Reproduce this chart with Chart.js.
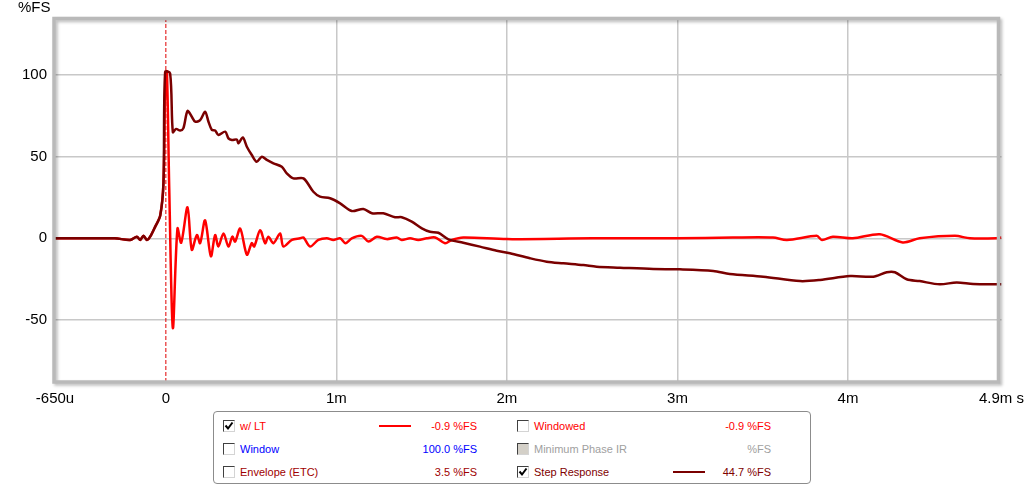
<!DOCTYPE html>
<html>
<head>
<meta charset="utf-8">
<script src="https://cdn.jsdelivr.net/npm/chart.js@4.4.1/dist/chart.umd.min.js"></script>
<style>
  body { margin: 0; background: #fff; font-family: "Liberation Sans", Arial, sans-serif; }
  #wrap { position: relative; width: 1024px; height: 485px; }
  #legend {
    position: absolute; left: 213px; top: 411px; width: 596px; height: 71px;
    border: 1px solid #8c8c8c; border-radius: 4px; font-size: 11px; background: #fff;
  }
  .row { position: absolute; height: 14px; line-height: 14px; white-space: nowrap; }
  .cb {
    position: absolute; top: 1px; width: 10px; height: 10px;
    border: 1px solid; border-color: #404040 #d4d4d4 #d4d4d4 #404040; background: #fff;
  }
  .cb.dis { background: #d4d0c8; }
  .cb svg { position: absolute; left: 0; top: 0; }
  .lbl { position: absolute; }
  .swatch { position: absolute; top: 6px; height: 2px; }
  .val { position: absolute; text-align: right; width: 90px; }
</style>
</head>
<body>
<div id="wrap">
  <canvas id="ir" width="1024" height="485"></canvas>
  <div id="legend"></div>
</div>
<script>
// x in ms, y in %FS
const ltTime = [-0.65, -0.3, -0.209, -0.17, -0.151, -0.131, -0.111, -0.092, -0.063, -0.033, -0.014, -0.004, 0.006, 0.02, 0.041, 0.068, 0.09, 0.127, 0.152, 0.182, 0.201, 0.23, 0.264, 0.289, 0.308, 0.338, 0.367, 0.39, 0.406, 0.436, 0.475, 0.504, 0.518, 0.553, 0.582, 0.601, 0.631, 0.67, 0.689, 0.739, 0.787, 0.807, 0.846, 0.894, 0.944, 0.982, 1.022, 1.053, 1.09, 1.149, 1.188, 1.237, 1.295, 1.354, 1.383, 1.432, 1.48, 1.53, 1.579, 1.637, 1.676, 1.744, 2.0, 2.5, 3.0, 3.325, 3.56, 3.642, 3.817, 3.847, 3.911, 4.028, 4.187, 4.321, 4.42, 4.627, 4.715, 4.87, 4.9];
const ltValues = [0, 0, -1, 1, -1, 1.5, -1, 1, 7, 14, 34, 90, 102, 30, -55, 6, -2.7, 19, -7, 2, -3, 11, -11, 2, -5, 3, -5, 1, -2, 6, -10, -3, -5, 5, -3, 1, -3, 3, -5, -1, 0, 0.5, -5, -1, 0, -1, 0, -3, 0, 1.5, -2, 1, -0.5, 0.5, -1, 0, -1, 0, 0.5, -3, -1, 0.5, -0.5, 0, 0, 0.5, 0.5, -1, 1.5, -1, 1, 0, 2.5, -2.5, 0, 1.5, 0, 0, 0.5];

const stepTime = [-0.65, -0.3, -0.209, -0.17, -0.151, -0.131, -0.111, -0.092, -0.063, -0.033, -0.014, -0.004, 0.025, 0.041, 0.06, 0.084, 0.103, 0.127, 0.152, 0.172, 0.201, 0.23, 0.25, 0.27, 0.289, 0.308, 0.348, 0.367, 0.387, 0.416, 0.426, 0.451, 0.475, 0.504, 0.533, 0.563, 0.592, 0.631, 0.68, 0.709, 0.748, 0.807, 0.865, 0.904, 0.963, 1.022, 1.09, 1.158, 1.208, 1.275, 1.344, 1.383, 1.442, 1.501, 1.549, 1.598, 1.657, 1.744, 1.842, 1.94, 2.018, 2.135, 2.233, 2.331, 2.448, 2.526, 2.663, 2.858, 3.014, 3.21, 3.307, 3.503, 3.719, 3.836, 4.012, 4.148, 4.227, 4.275, 4.344, 4.42, 4.538, 4.637, 4.734, 4.871, 4.9];
const stepValues = [0, 0, -1, 1, -1, 1.5, -1, 1, 7, 14, 34, 102, 101, 65, 67, 66, 67.5, 78, 74.5, 71.4, 72.4, 77.5, 71.4, 66.3, 66, 63.3, 65.3, 61.2, 60.2, 60.5, 58.2, 61.8, 56.1, 51, 46.9, 50, 48, 45.9, 43.8, 39.8, 36.7, 36.7, 28.5, 25.5, 24.5, 21.4, 16.7, 18, 15.3, 15.3, 12.9, 12.9, 10.2, 6.1, 4, 3.4, -0.6, -2.7, -5.1, -7.6, -9.2, -12.2, -14.3, -15.3, -16.4, -17.4, -18, -18.8, -19, -20, -21.9, -23.5, -26.2, -25.5, -23.1, -23.5, -20.8, -20.8, -25.1, -26.2, -28.2, -27, -28, -28.2, -28.2];

const xTicks = [-0.65, 0, 1, 2, 3, 4, 4.9];
const xTickLabels = ['-650u', '0', '1m', '2m', '3m', '4m', '4.9m s'];
const yTicks = [-50, 0, 50, 100];
const xMin = -0.65, xMax = 4.9, yMin = -88, yMax = 134;

// legend
const legendLabels = ['w/ LT', 'Window', 'Envelope (ETC)', 'Windowed', 'Minimum Phase IR', 'Step Response'];
const legendValues = ['-0.9 %FS', '100.0 %FS', '3.5 %FS', '-0.9 %FS', '%FS', '44.7 %FS'];
const legendColors = ['#ff0000', '#0000ff', '#a00000', '#ff0000', '#a0a0a0', '#800000'];
const legendChecked = [true, false, false, false, false, true];

const ltColor = '#ff0000';
const stepColor = '#7a0000';

const legend = document.getElementById('legend');
legendLabels.forEach((name, i) => {
  const col = i < 3 ? 0 : 1;
  const r = i % 3;
  const row = document.createElement('div');
  row.className = 'row';
  row.style.left = (col ? 303 : 9) + 'px';
  row.style.top = (7 + r * 23) + 'px';
  row.style.width = '270px';
  row.style.color = legendColors[i];
  let html = '<div class="cb' + (i === 4 ? ' dis' : '') + '">' +
    (legendChecked[i] ? '<svg width="10" height="10"><polyline points="1.5,4.5 4,7.5 8.5,1.5" fill="none" stroke="#000" stroke-width="2"/></svg>' : '') +
    '</div>';
  html += '<span class="lbl" style="left:17px">' + name + '</span>';
  if (legendChecked[i]) {
    html += '<div class="swatch" style="left:156px;width:32px;background:' + (i === 0 ? ltColor : stepColor) + '"></div>';
  }
  html += '<span class="val" style="left:' + (col ? 164 : 164) + 'px">' + legendValues[i] + '</span>';
  row.innerHTML = html;
  legend.appendChild(row);
});

const toPts = (t, v) => t.map((x, i) => ({ x: x, y: v[i] }));

const framePlugin = {
  id: 'frame',
  afterDraw(chart) {
    const { ctx, chartArea: a } = chart;
    ctx.save();
    // y unit label
    ctx.fillStyle = '#000';
    ctx.font = '15px "Liberation Sans", Arial, sans-serif';
    ctx.textBaseline = 'middle';
    ctx.textAlign = 'left';
    ctx.fillText('%FS', 18, 8);
    // plot frame
    ctx.shadowColor = 'rgba(0,0,0,0.25)';
    ctx.shadowBlur = 3;
    ctx.shadowOffsetX = 2;
    ctx.shadowOffsetY = 2;
    ctx.strokeStyle = '#b9b9b9';
    ctx.lineWidth = 3.5;
    ctx.strokeRect(a.left - 1, a.top - 1, a.right - a.left - 2, a.bottom - a.top + 1);
    ctx.restore();
  }
};

new Chart(document.getElementById('ir'), {
  type: 'line',
  data: {
    datasets: [
      {
        label: 'Step Response',
        data: toPts(stepTime, stepValues),
        borderColor: stepColor,
        borderWidth: 2.5,
        pointRadius: 0,
        tension: 0.3
      },
      {
        label: 'w/ LT',
        data: toPts(ltTime, ltValues),
        borderColor: ltColor,
        borderWidth: 2.5,
        pointRadius: 0,
        tension: 0.3
      },
      {
        label: 'zero',
        data: [{ x: 0, y: yMin }, { x: 0, y: yMax }],
        borderColor: '#e00000',
        borderWidth: 1,
        borderDash: [4, 2],
        pointRadius: 0
      }
    ]
  },
  options: {
    responsive: false,
    animation: false,
    layout: { padding: { top: 19.5, right: 22.5, left: 0, bottom: 0 } },
    plugins: { legend: { display: false }, tooltip: { enabled: false } },
    scales: {
      x: {
        type: 'linear',
        min: xMin,
        max: xMax,
        afterBuildTicks: s => { s.ticks = xTicks.map(v => ({ value: v })); },
        afterFit: s => { s.height = 103; s.paddingLeft = 0; s.paddingRight = 0; },
        ticks: {
          autoSkip: false,
          maxRotation: 0,
          padding: 8,
          color: '#000',
          font: { family: '"Liberation Sans", Arial, sans-serif', size: 15 },
          callback: (v, i) => xTickLabels[i]
        },
        grid: {
          drawTicks: false,
          lineWidth: 1.5,
          color: c => (c.tick && c.tick.value > 0.5 && c.tick.value < 4.5) ? '#c8c8c8' : 'rgba(0,0,0,0)'
        },
        border: { display: false }
      },
      y: {
        min: yMin,
        max: yMax,
        afterBuildTicks: s => { s.ticks = yTicks.map(v => ({ value: v })); },
        afterFit: s => { s.width = 55; s.paddingTop = 0; s.paddingBottom = 0; },
        ticks: {
          padding: 8,
          color: '#000',
          font: { family: '"Liberation Sans", Arial, sans-serif', size: 15 }
        },
        grid: { drawTicks: false, lineWidth: 1.5, color: '#c8c8c8' },
        border: { display: false }
      }
    }
  },
  plugins: [framePlugin]
});
</script>
</body>
</html>
